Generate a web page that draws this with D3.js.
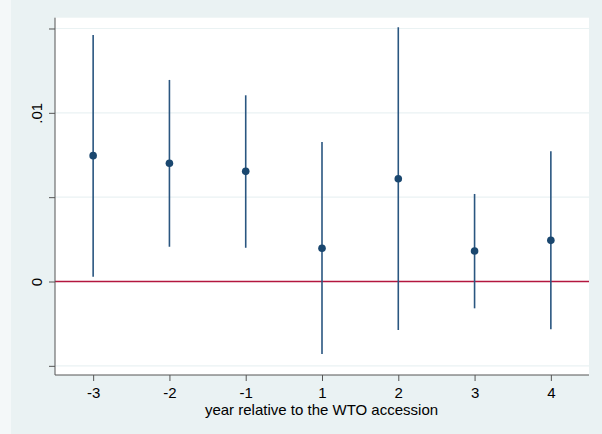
<!DOCTYPE html>
<html>
<head>
<meta charset="utf-8">
<script src="https://cdn.jsdelivr.net/npm/d3@7"></script>
<style>
body { margin: 0; background: #eaf2f3; }
text { font-family: "Liberation Sans", Arial, sans-serif; fill: #000; }
</style>
</head>
<body>
<svg id="chart" width="602" height="434"></svg>
<script>
// event-time categories and estimates
var years = ['-3', '-2', '-1', '1', '2', '3', '4']
var coef  = [0.00746, 0.00701, 0.00653, 0.00197, 0.00609, 0.00181, 0.00244]
var ciHi  = [0.01461, 0.01195, 0.01104, 0.00827, 0.01507, 0.00519, 0.00772]
var ciLo  = [0.00028, 0.00206, 0.00200, -0.00430, -0.00288, -0.00159, -0.00283]
var yTicks = [-0.005, 0, 0.005, 0.01, 0.015]
var yLabels = {'0': '0', '0.01': '.01'}

var svg = d3.select('#chart')

// outer background, with the pale strip at the left edge
svg.append('rect')
	.attr('width', 602).attr('height', 434)
	.attr('fill', '#eaf2f3')
svg.append('rect')
	.attr('width', 11).attr('height', 434)
	.attr('fill', '#f4f8f9')

var plotL = 55, plotR = 589, plotT = 17.7, plotB = 375

var x = d3.scaleLinear().domain([0.5, 7.5]).range([plotL, plotR])
var y = d3.scaleLinear().domain([-0.005543, 0.01564]).range([plotB, plotT])

// plot region
svg.append('rect')
	.attr('x', plotL).attr('y', plotT)
	.attr('width', plotR - plotL).attr('height', plotB - plotT)
	.attr('fill', 'white')

// gridlines
svg.append('g')
	.selectAll('line')
	.data(yTicks)
	.join('line')
	.attr('x1', plotL).attr('x2', plotR)
	.attr('y1', d => y(d)).attr('y2', d => y(d))
	.attr('stroke', '#eaf2f3')
	.attr('stroke-width', 1.2)

// zero reference line
svg.append('line')
	.attr('x1', plotL).attr('x2', plotR)
	.attr('y1', y(0)).attr('y2', y(0))
	.attr('stroke', '#b3163e')
	.attr('stroke-width', 1.3)

// y axis
var yAxis = d3.axisLeft(y)
	.tickValues(yTicks)
	.tickSize(6)
	.tickFormat(d => yLabels[String(d)] || '')
var gy = svg.append('g')
	.attr('transform', 'translate(' + plotL + ',0)')
	.call(yAxis)
gy.attr('font-size', null).attr('font-family', null)
gy.select('.domain').attr('stroke', '#555').attr('d', 'M0,' + plotT + 'V' + plotB)
gy.selectAll('.tick line').attr('stroke', '#555')
gy.selectAll('.tick text')
	.attr('font-size', 15)
	.attr('transform', 'rotate(-90)')
	.attr('text-anchor', 'middle')
	.attr('x', 0)
	.attr('y', -13)
	.attr('dy', 0)
	.attr('fill', '#000')

// x axis
var xAxis = d3.axisBottom(x)
	.tickValues(d3.range(1, years.length + 1))
	.tickSize(6)
	.tickFormat(d => years[d - 1])
var gx = svg.append('g')
	.attr('transform', 'translate(0,' + plotB + ')')
	.call(xAxis)
gx.attr('font-size', null).attr('font-family', null)
gx.select('.domain').attr('stroke', '#555').attr('d', 'M' + plotL + ',0H' + plotR)
gx.selectAll('.tick line').attr('stroke', '#555')
gx.selectAll('.tick text')
	.attr('font-size', 15)
	.attr('y', 12)
	.attr('fill', '#000')

svg.append('text')
	.attr('x', 321.5)
	.attr('y', 414.5)
	.attr('text-anchor', 'middle')
	.attr('font-size', 15)
	.text('year relative to the WTO accession')

// confidence intervals
svg.append('g')
	.selectAll('line')
	.data(years)
	.join('line')
	.attr('x1', (d, i) => x(i + 1)).attr('x2', (d, i) => x(i + 1))
	.attr('y1', (d, i) => y(ciLo[i])).attr('y2', (d, i) => y(ciHi[i]))
	.attr('stroke', '#2a5680')
	.attr('stroke-width', 1.6)

// point estimates
svg.append('g')
	.selectAll('circle')
	.data(years)
	.join('circle')
	.attr('cx', (d, i) => x(i + 1))
	.attr('cy', (d, i) => y(coef[i]))
	.attr('r', 3.8)
	.attr('fill', '#1a476f')
</script>
</body>
</html>
